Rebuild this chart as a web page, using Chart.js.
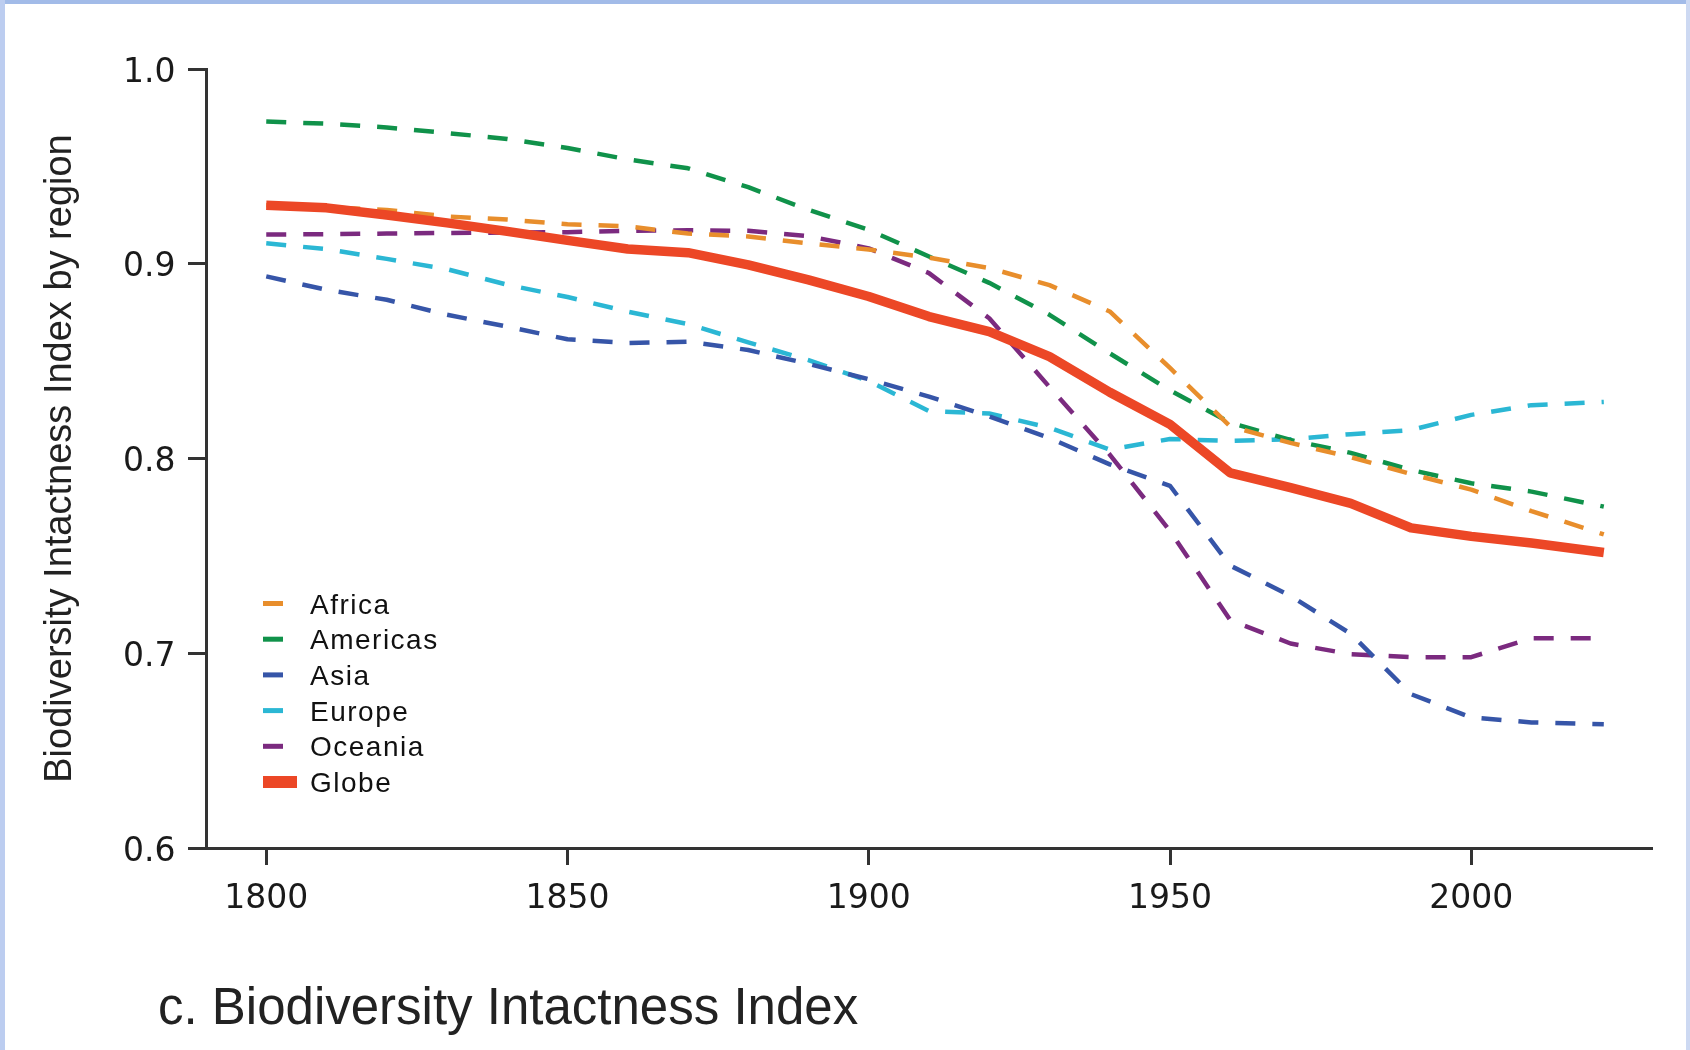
<!DOCTYPE html>
<html>
<head>
<meta charset="utf-8">
<title>Biodiversity Intactness Index</title>
<script src="https://cdn.jsdelivr.net/npm/chart.js@4.4.1/dist/chart.umd.min.js"></script>
<style>
  html, body { margin: 0; padding: 0; background: #fff; }
  body { width: 1690px; height: 1050px; position: relative; overflow: hidden; }
  #wrap { position: absolute; left: 0; top: 0; width: 1690px; height: 950px; }
  #caption { position: absolute; left: 158px; top: 981px; font-family: "Liberation Sans", Arial, sans-serif; font-size: 51px; line-height: 51px; color: #222; white-space: nowrap; }
  .edge { position: absolute; }
  #edgeTop { left: 0; top: 0; width: 1690px; height: 4px; background: #a2bbe8; }
  #edgeLeft { left: 0; top: 0; width: 5px; height: 1050px; background: #bccdf0; }
  #edgeRight { right: 0; top: 0; width: 4px; height: 1050px; background: #cdd9f2; }
</style>
</head>
<body>
<div id="wrap"><canvas id="biiChart" width="1690" height="950"></canvas></div>
<div id="caption">c. Biodiversity Intactness Index</div>
<div class="edge" id="edgeTop"></div>
<div class="edge" id="edgeLeft"></div>
<div class="edge" id="edgeRight"></div>
<script>
// values, one per decade (last point is the latest year)
const years = [1800, 1810, 1820, 1830, 1840, 1850, 1860, 1870, 1880, 1890, 1900, 1910,
               1920, 1930, 1940, 1950, 1960, 1970, 1980, 1990, 2000, 2010, 2022];
const africa   = [0.930, 0.929, 0.9276, 0.9243, 0.9227, 0.9203, 0.9192, 0.9155, 0.914, 0.9105, 0.9073, 0.9031,
                  0.8978, 0.889, 0.8755, 0.8465, 0.8165, 0.808, 0.8007, 0.792, 0.784, 0.773, 0.761];
const americas = [0.973, 0.9719, 0.970, 0.9671, 0.9641, 0.9594, 0.9536, 0.949, 0.9393, 0.9277, 0.9174, 0.9037,
                  0.8902, 0.8738, 0.854, 0.835, 0.8184, 0.8095, 0.8029, 0.7941, 0.7873, 0.783, 0.7753];
const asia     = [0.8935, 0.8866, 0.8815, 0.8738, 0.8677, 0.8612, 0.8593, 0.860, 0.8557, 0.8486, 0.8407, 0.8318,
                  0.8216, 0.8105, 0.797, 0.786, 0.745, 0.7295, 0.710, 0.679, 0.667, 0.6645, 0.6635];
const europe   = [0.9105, 0.9075, 0.9025, 0.8972, 0.8892, 0.8829, 0.8754, 0.869, 0.8596, 0.8505, 0.8398, 0.8243,
                  0.8231, 0.8158, 0.8046, 0.810, 0.809, 0.8099, 0.8125, 0.8146, 0.8224, 0.8274, 0.829];
const oceania  = [0.915, 0.9152, 0.9155, 0.9158, 0.916, 0.9162, 0.9169, 0.9172, 0.9169, 0.9142, 0.9079, 0.8952,
                  0.872, 0.8367, 0.802, 0.7628, 0.717, 0.705, 0.6995, 0.698, 0.698, 0.7077, 0.7077];
const globe    = [0.930, 0.9287, 0.925, 0.921, 0.9166, 0.912, 0.9076, 0.9057, 0.8994, 0.8917, 0.8832, 0.8729,
                  0.8652, 0.8523, 0.834, 0.8175, 0.7926, 0.785, 0.777, 0.7644, 0.760, 0.7566, 0.7517];

const regionNames = ['Africa', 'Americas', 'Asia', 'Europe', 'Oceania', 'Globe'];
const xTickValues = [1800, 1850, 1900, 1950, 2000];
const yTickValues = [0.6, 0.7, 0.8, 0.9, 1.0];

const series = [africa, americas, asia, europe, oceania, globe];
const lineColors = ['#e88e2c', '#10924a', '#3655a8', '#2bb7d4', '#7b2a7f', '#ec4726'];

const tickFont = { family: '"DejaVu Sans", sans-serif', size: 33 };
const ink = '#333';

function pairs(values) {
    return years.map((yr, i) => ({ x: yr, y: values[i] }));
}

const datasets = series.map((values, i) => {
    const isGlobe = regionNames[i] === 'Globe';
    return {
        label: regionNames[i],
        data: pairs(values),
        borderColor: lineColors[i],
        backgroundColor: lineColors[i],
        borderWidth: isGlobe ? 9.5 : 4.5,
        borderDash: isGlobe ? [] : [20, 17],
        pointRadius: 0,
        tension: 0,
        fill: false,
        order: isGlobe ? 0 : 1
    };
});

// legend drawn inside the plot, lower left
const insideLegend = {
    id: 'insideLegend',
    afterDraw(chart) {
        const ctx = chart.ctx;
        ctx.save();
        ctx.font = '28px "Liberation Sans", Arial, sans-serif';
        ctx.letterSpacing = '1.5px';
        ctx.textBaseline = 'alphabetic';
        chart.data.datasets.forEach((ds, i) => {
            const y = 603.5 + i * 35.7;
            ctx.fillStyle = ds.borderColor;
            if (ds.borderDash.length) {
                ctx.fillRect(263, y - 2.5, 20, 5);
            } else {
                ctx.fillRect(263, y - 6, 34, 12);
            }
            ctx.fillStyle = '#111';
            ctx.fillText(ds.label, 310, y + 10);
        });
        ctx.restore();
    }
};

new Chart(document.getElementById('biiChart'), {
    type: 'line',
    data: { datasets: datasets },
    plugins: [insideLegend],
    options: {
        responsive: false,
        devicePixelRatio: 1,
        animation: false,
        layout: { padding: { left: 123, top: 69, right: 38, bottom: 0 } },
        plugins: {
            legend: { display: false },
            tooltip: { enabled: false }
        },
        elements: { line: { borderCapStyle: 'butt', borderJoinStyle: 'round' } },
        scales: {
            x: {
                type: 'linear',
                min: 1790,
                max: 2030,
                afterBuildTicks: axis => { axis.ticks = xTickValues.map(v => ({ value: v })); },
                afterFit: axis => { axis.height = 102; },
                grid: { drawOnChartArea: false, drawTicks: true, tickLength: 17, tickWidth: 3, tickColor: ink, color: ink },
                border: { display: true, color: ink, width: 3 },
                ticks: { font: tickFont, color: '#1a1a1a', padding: 15, maxRotation: 0, callback: v => String(v) }
            },
            y: {
                min: 0.6,
                max: 1.0,
                afterBuildTicks: axis => { axis.ticks = yTickValues.map(v => ({ value: v })); },
                afterFit: axis => { axis.width = 83; },
                grid: { drawOnChartArea: false, drawTicks: true, tickLength: 18, tickWidth: 3, tickColor: ink, color: ink },
                border: { display: true, color: ink, width: 3 },
                ticks: { font: tickFont, color: '#1a1a1a', crossAlign: 'far', labelOffset: 4, callback: v => v.toFixed(1) },
                title: {
                    display: true,
                    text: 'Biodiversity Intactness Index by region',
                    font: { family: '"Liberation Sans", Arial, sans-serif', size: 38 },
                    color: '#222',
                    padding: { top: -85, bottom: 0 }
                }
            }
        }
    }
});
</script>
</body>
</html>
